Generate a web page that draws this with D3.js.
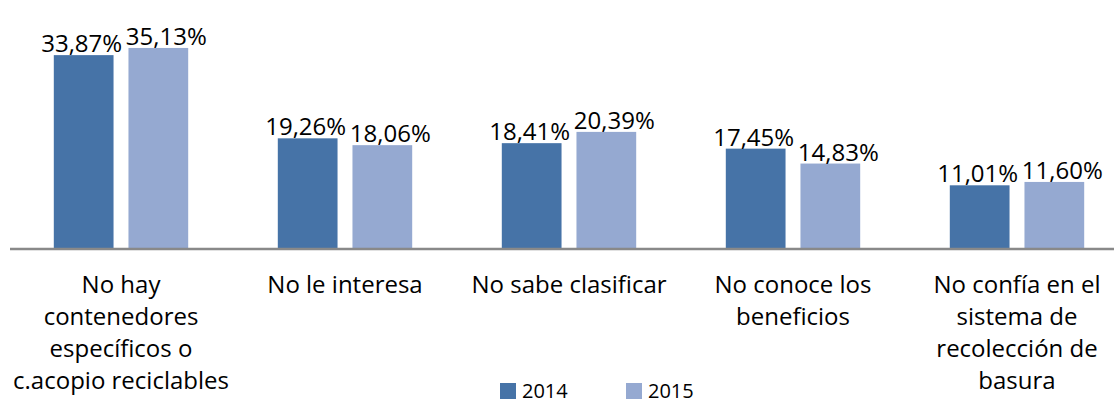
<!DOCTYPE html>
<html>
<head>
<meta charset="utf-8">
<script src="https://cdn.jsdelivr.net/npm/d3@7"></script>
<style>
    body { margin: 0; background: #fff; }
    text { font-family: "Open Sans", sans-serif; fill: #000; }
</style>
</head>
<body>
<div id="chart"></div>
<script>
const categories = [
    ["No hay", "contenedores", "específicos o", "c.acopio reciclables"],
    ["No le interesa"],
    ["No sabe clasificar"],
    ["No conoce los", "beneficios"],
    ["No confía en el", "sistema de", "recolección de", "basura"]
];
const seriesNames = ["2014", "2015"];
const values2014 = [33.87, 19.26, 18.41, 17.45, 11.01];
const values2015 = [35.13, 18.06, 20.39, 14.83, 11.60];

const COLORS = { "2014": "#4673a7", "2015": "#95a9d1" };
const width = 1114;
const height = 406;
const baseY = 248;

const svg = d3.select("#chart")
    .append("svg")
    .attr("width", width)
    .attr("height", height);

const catKeys = categories.map((c) => c.join(" "));

const x0 = d3.scaleBand()
    .domain(catKeys)
    .range([9, 1129])
    .paddingInner(0.4)
    .paddingOuter(0.2);

const x1 = d3.scaleBand()
    .domain(seriesNames)
    .range([0, x0.bandwidth()])
    .paddingInner(0.2);

const y = d3.scaleLinear().domain([0, 36]).range([baseY, baseY - 205]);

const rows = catKeys.map((k, i) => ({
    key: k,
    lines: categories[i],
    vals: [
        { s: "2014", v: values2014[i] },
        { s: "2015", v: values2015[i] }
    ]
}));

const fmt = (v) => v.toFixed(2).replace(".", ",") + "%";

// bars
const groups = svg.selectAll("g.cat")
    .data(rows)
    .join("g")
    .attr("class", "cat")
    .attr("transform", (d) => `translate(${x0(d.key)},0)`);

groups.selectAll("rect")
    .data((d) => d.vals)
    .join("rect")
    .attr("x", (d) => x1(d.s))
    .attr("y", (d) => y(d.v))
    .attr("width", x1.bandwidth())
    .attr("height", (d) => baseY - y(d.v))
    .style("fill", (d) => COLORS[d.s]);

// value labels
groups.selectAll("text.val")
    .data((d) => d.vals)
    .join("text")
    .attr("class", "val")
    .attr("x", (d) => x1(d.s) + x1.bandwidth() / 2 + (d.s === "2015" ? 8 : -2))
    .attr("y", (d) => y(d.v) - 3)
    .attr("text-anchor", "middle")
    .style("font-size", "24px")
    .text((d) => fmt(d.v));

// axis
svg.append("line")
    .attr("x1", 10)
    .attr("x2", width)
    .attr("y1", baseY + 1)
    .attr("y2", baseY + 1)
    .style("stroke", "#898989")
    .style("stroke-width", 2.5);

// category labels
const catText = svg.selectAll("text.cat-label")
    .data(rows)
    .join("text")
    .attr("class", "cat-label")
    .attr("text-anchor", "middle")
    .style("font-size", "24px")
    .attr("transform", (d) => `translate(${x0(d.key) + x0.bandwidth() / 2},293)`);

catText.selectAll("tspan")
    .data((d) => d.lines)
    .join("tspan")
    .attr("x", 0)
    .attr("y", (d, i) => i * 32)
    .text((d) => d);

// legend
const legend = svg.append("g").attr("transform", "translate(500,383)");
const item = legend.selectAll("g")
    .data(seriesNames)
    .join("g")
    .attr("transform", (d, i) => `translate(${i * 126},0)`);

item.append("rect")
    .attr("width", 16)
    .attr("height", 16)
    .style("fill", (d) => COLORS[d]);

item.append("text")
    .attr("x", 22)
    .attr("y", 15)
    .style("font-size", "20px")
    .text((d) => d);
</script>
</body>
</html>
